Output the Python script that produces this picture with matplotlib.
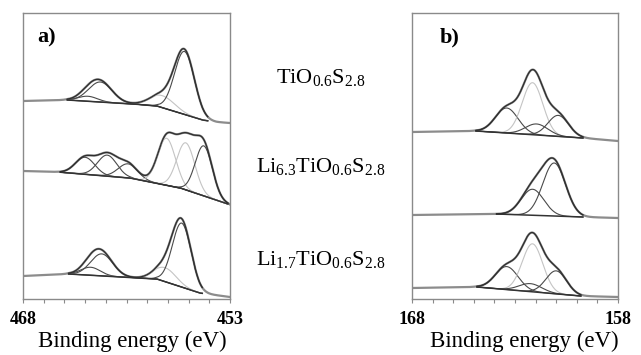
import numpy as np
import matplotlib
matplotlib.use("Agg")
import matplotlib.pyplot as plt

plt.rcParams['font.family'] = ['Liberation Serif', 'DejaVu Serif']
plt.rcParams['mathtext.default'] = 'regular'

# ---- Ti 2p panel (a) ----
ti_ticks = [468, 466.5, 465, 463.5, 462, 460.5, 459, 457.5, 456, 454.5, 453]
ti_ticklabels = ['468', '', '', '', '', '', '', '', '', '', '453']

# top: TiO0.6S2.8
ti_top_bg_ev = [468, 464.8, 460.0, 458.3, 455.0, 454.0, 453]
ti_top_bg = [198, 199, 195, 193, 179, 177, 176]
ti_top_pos = [463.3, 462.4, 457.9, 456.3]
ti_top_h = [5, 20, 12, 63]
ti_top_w = [0.7, 0.85, 0.9, 0.72]
ti_top_shade = ['dark', 'dark', 'light', 'dark']
ti_top_fit = (464.8, 454.6)

# middle: Li6.3TiO0.6S2.8
ti_mid_bg_ev = [468, 465.5, 460.25, 456.6, 453.15, 453]
ti_mid_bg = [128, 127, 121, 111, 95, 94]
ti_mid_pos = [463.5, 461.9, 460.4, 457.6, 456.2, 454.9]
ti_mid_h = [17, 21, 14, 47, 47, 50]
ti_mid_w = [0.7, 0.7, 0.7, 0.65, 0.65, 0.62]
ti_mid_shade = ['dark', 'dark', 'dark', 'light', 'light', 'dark']
ti_mid_fit = (465.3, 453.15)

# bottom: Li1.7TiO0.6S2.8
ti_bot_bg_ev = [468, 464.7, 458.3, 455.2, 453]
ti_bot_bg = [23, 25, 20, 6, 2]
ti_bot_pos = [463.1, 462.3, 457.7, 456.5]
ti_bot_h = [8, 22, 14, 64]
ti_bot_w = [0.7, 0.8, 0.8, 0.68]
ti_bot_shade = ['dark', 'dark', 'light', 'dark']
ti_bot_fit = (464.7, 455.0)

# ---- S 2p panel (b) ----
s_ticks = [168, 167, 166, 165, 164, 163, 162, 161, 160, 159, 158]
s_ticklabels = ['168', '', '', '', '', '', '', '', '', '', '158']

s_top_bg_ev = [168, 164.9, 159.7, 158]
s_top_bg = [167, 168, 161, 158]
s_top_pos = [163.4, 162.15, 161.95, 160.9]
s_top_h = [25, 52, 11, 21]
s_top_w = [0.55, 0.5, 0.55, 0.5]
s_top_shade = ['dark', 'light', 'dark', 'dark']
s_top_fit = (164.9, 159.7)

s_mid_bg_ev = [168, 163.9, 159.7, 158]
s_mid_bg = [84, 85, 82, 81]
s_mid_pos = [162.15, 161.1]
s_mid_h = [26, 53]
s_mid_w = [0.55, 0.55]
s_mid_shade = ['dark', 'dark']
s_mid_fit = (163.9, 159.7)

s_bot_bg_ev = [168, 164.85, 159.8, 158]
s_bot_bg = [11, 12, 3, 2]
s_bot_pos = [163.4, 162.15, 162.25, 161.0]
s_bot_h = [23, 48, 8, 23]
s_bot_w = [0.55, 0.5, 0.55, 0.5]
s_bot_shade = ['dark', 'light', 'dark', 'dark']
s_bot_fit = (164.85, 159.8)

labels = ['TiO$_{0.6}$S$_{2.8}$',
          'Li$_{6.3}$TiO$_{0.6}$S$_{2.8}$',
          'Li$_{1.7}$TiO$_{0.6}$S$_{2.8}$']

shade_col = {'dark': '#4a4a4a', 'light': '#c4c4c4'}
frame_col = '#8a8a8a'


def gauss(x, p, h, w):
    return h * np.exp(-(x - p) ** 2 / (2 * w ** 2))


def draw_spectrum(ax, xmin, xmax, bg_ev, bg_val, pos, hts, wids, shades, fit):
    x = np.linspace(xmax, xmin, 800)
    bg = np.interp(x, bg_ev[::-1], bg_val[::-1])
    comps = [gauss(x, p, h, w) for p, h, w in zip(pos, hts, wids)]
    total = bg + np.sum(comps, axis=0)
    # measured data
    ax.plot(x, total, color='#8c8c8c', lw=1.6, zorder=2)
    m = (x <= fit[0]) & (x >= fit[1])
    for c, s in zip(comps, shades):
        ax.plot(x[m], bg[m] + c[m], color=shade_col[s], lw=0.8, zorder=3)
    ax.plot(x[m], bg[m], color='#333333', lw=1.1, zorder=4)
    ax.plot(x[m], total[m], color='#2e2e2e', lw=0.9, zorder=5)


fig = plt.figure(figsize=(6.41, 3.55), dpi=100)
ax_a = fig.add_axes([23 / 641, 56 / 355, 207 / 641, 286 / 355])
ax_b = fig.add_axes([412 / 641, 56 / 355, 206 / 641, 286 / 355])

draw_spectrum(ax_a, 453, 468, ti_top_bg_ev, ti_top_bg, ti_top_pos, ti_top_h, ti_top_w, ti_top_shade, ti_top_fit)
draw_spectrum(ax_a, 453, 468, ti_mid_bg_ev, ti_mid_bg, ti_mid_pos, ti_mid_h, ti_mid_w, ti_mid_shade, ti_mid_fit)
draw_spectrum(ax_a, 453, 468, ti_bot_bg_ev, ti_bot_bg, ti_bot_pos, ti_bot_h, ti_bot_w, ti_bot_shade, ti_bot_fit)

draw_spectrum(ax_b, 158, 168, s_top_bg_ev, s_top_bg, s_top_pos, s_top_h, s_top_w, s_top_shade, s_top_fit)
draw_spectrum(ax_b, 158, 168, s_mid_bg_ev, s_mid_bg, s_mid_pos, s_mid_h, s_mid_w, s_mid_shade, s_mid_fit)
draw_spectrum(ax_b, 158, 168, s_bot_bg_ev, s_bot_bg, s_bot_pos, s_bot_h, s_bot_w, s_bot_shade, s_bot_fit)

for ax, lim, ticks, tl, tag, tx in [(ax_a, (468, 453), ti_ticks, ti_ticklabels, 'a)', 0.068),
                                    (ax_b, (168, 158), s_ticks, s_ticklabels, 'b)', 0.136)]:
    ax.set_xlim(*lim)
    ax.set_ylim(0, 286)
    ax.set_xticks(ticks)
    ax.set_xticklabels(tl, fontweight='bold', fontsize=13)
    ax.set_yticks([])
    ax.tick_params(axis='x', direction='out', length=3, width=0.8, color=frame_col, pad=6)
    for sp in ax.spines.values():
        sp.set_color(frame_col)
        sp.set_linewidth(1.0)
    ax.text(tx, 0.913, tag, transform=ax.transAxes, fontsize=16, fontweight='bold',
            ha='left', va='center')

fig.text(132 / 641, 1 - 347 / 355, 'Binding energy (eV)', fontsize=16.5, ha='center', va='baseline')
fig.text(524 / 641, 1 - 347 / 355, 'Binding energy (eV)', fontsize=16.5, ha='center', va='baseline')

for lab, yb in zip(labels, [83, 172, 265]):
    fig.text(321 / 641, 1 - yb / 355, lab, fontsize=16, ha='center', va='baseline')

fig.savefig('out.png', dpi=100)
